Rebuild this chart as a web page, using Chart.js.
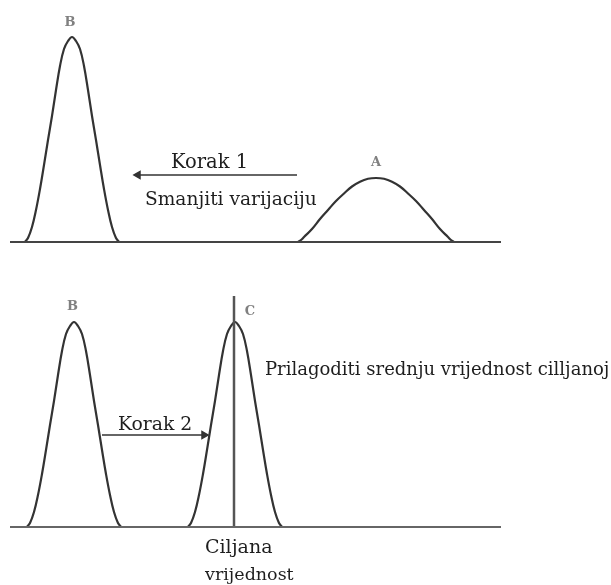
<!DOCTYPE html>
<html>
<head>
<meta charset="utf-8">
<script src="https://cdn.jsdelivr.net/npm/chart.js@4/dist/chart.umd.min.js"></script>
<style>
  html, body { margin: 0; padding: 0; background: #fff; }
  .panel { position: relative; width: 611px; }
  #top { height: 270px; }
  #bottom { height: 315px; }
</style>
</head>
<body>
<div class="panel" id="top"><canvas id="chartTop"></canvas></div>
<div class="panel" id="bottom"><canvas id="chartBottom"></canvas></div>
<script>
// krivulje očitane sa slike (x = položaj, y = visina iznad osnovne linije)
const curveB1X = [25, 28, 32, 36, 40, 44, 48, 52, 56, 60, 64, 68, 72, 76, 80, 84, 88, 92, 96, 100, 104, 108, 112, 116, 119];
const curveB1Y = [0, 4, 15, 32, 53, 77, 102, 126, 152, 176, 193, 201, 205, 201, 193, 176, 152, 126, 102, 77, 53, 32, 15, 4, 0];

const curveAX = [298, 301, 304, 312, 320, 328, 336, 344, 352, 360, 368, 376, 384, 392, 400, 408, 416, 424, 432, 440, 448, 451, 454];
const curveAY = [0, 2, 5, 13, 23, 32, 41, 48.5, 55.5, 60.3, 63.2, 64, 63.2, 60.3, 55.5, 48.5, 41, 32, 23, 13, 5, 2, 0];

const curveB2X = [27, 30, 34, 38, 42, 46, 50, 54, 58, 62, 66, 70, 74, 78, 82, 86, 90, 94, 98, 102, 106, 110, 114, 118, 121];
const curveB2Y = [0, 4, 15, 32, 53, 77, 102, 126, 152, 176, 193, 201, 205, 201, 193, 176, 152, 126, 102, 77, 53, 32, 15, 4, 0];

const curveCX = [188, 191, 195, 199, 203, 207, 211, 215, 219, 223, 227, 231, 235, 239, 243, 247, 251, 255, 259, 263, 267, 271, 275, 279, 282];
const curveCY = [0, 4, 15, 32, 53, 77, 102, 126, 152, 176, 193, 201, 205, 201, 193, 176, 152, 126, 102, 77, 53, 32, 15, 4, 0];

const baseX = [10, 501];
const targetX = 234;
const targetTop = 231;

// tekstovi
const step1Label = 'Korak 1';
const step1Note = 'Smanjiti varijaciju';
const step2Label = 'Korak 2';
const step2Note = 'Prilagoditi srednju vrijednost cilljanoj';
const targetLabel = ['Ciljana', 'vrijednost'];
const topPeakLabels = ['B', 'A'];
const bottomPeakLabels = ['B', 'C'];

const toPoints = (xs, ys) => xs.map((v, i) => ({ x: v, y: ys[i] }));

const curveStyle = {
    borderColor: '#333',
    borderWidth: 2.2,
    pointRadius: 0,
    fill: false,
    tension: 0.4
};

const lineStyle = {
    borderColor: '#555',
    borderWidth: 2,
    pointRadius: 0,
    fill: false,
    tension: 0
};

// strelica: linija + trokut na vrhu
function arrow(x1, x2, y, rotation) {
    return {
        data: [{ x: x1, y: y }, { x: x2, y: y }],
        borderColor: '#333',
        backgroundColor: '#333',
        borderWidth: 1.5,
        pointStyle: 'triangle',
        pointRadius: [0, 4],
        pointRotation: rotation,
        fill: false,
        tension: 0
    };
}

// crtanje teksta u koordinatama grafa
const textPlugin = {
    id: 'notes',
    afterDatasetsDraw(chart, args, opts) {
        const { ctx, scales: { x, y } } = chart;
        ctx.save();
        (opts.items || []).forEach(t => {
            ctx.font = t.font;
            ctx.fillStyle = t.color || '#1e1e1e';
            ctx.textAlign = t.align || 'left';
            ctx.textBaseline = t.baseline || 'alphabetic';
            ctx.fillText(t.text, x.getPixelForValue(t.x), y.getPixelForValue(t.y));
        });
        ctx.restore();
    }
};

const serif = "'DejaVu Serif'";
const peakFont = "bold 13px " + serif;

function baseOptions(yMin, yMax, items) {
    return {
        responsive: true,
        maintainAspectRatio: false,
        animation: false,
        layout: { padding: 0, autoPadding: false },
        scales: {
            x: { type: 'linear', display: false, min: 0, max: 611 },
            y: { type: 'linear', display: false, min: yMin, max: yMax }
        },
        plugins: {
            legend: { display: false },
            tooltip: { enabled: false },
            notes: { items: items }
        }
    };
}

// gornji dio
new Chart(document.getElementById('chartTop'), {
    type: 'line',
    data: {
        datasets: [
            Object.assign({ data: toPoints(baseX, [0, 0]) }, lineStyle, { borderColor: '#444' }),
            Object.assign({ data: toPoints(curveB1X, curveB1Y) }, curveStyle),
            Object.assign({ data: toPoints(curveAX, curveAY) }, curveStyle),
            arrow(297, 138, 67, 270)
        ]
    },
    options: baseOptions(-28, 242, [
        { text: topPeakLabels[0], x: 70, y: 219, font: peakFont, color: '#808080', align: 'center', baseline: 'middle' },
        { text: topPeakLabels[1], x: 376, y: 79, font: peakFont, color: '#808080', align: 'center', baseline: 'middle' },
        { text: step1Label, x: 171, y: 74, font: "19.5px " + serif },
        { text: step1Note, x: 145, y: 37, font: "18.6px " + serif }
    ]),
    plugins: [textPlugin]
});

// donji dio
new Chart(document.getElementById('chartBottom'), {
    type: 'line',
    data: {
        datasets: [
            Object.assign({ data: toPoints(baseX, [0, 0]) }, lineStyle, { borderColor: '#666' }),
            Object.assign({ data: toPoints([targetX, targetX], [0, targetTop]) }, lineStyle, { borderWidth: 2.5 }),
            Object.assign({ data: toPoints(curveB2X, curveB2Y) }, curveStyle),
            Object.assign({ data: toPoints(curveCX, curveCY) }, curveStyle),
            arrow(102, 204, 92, 90)
        ]
    },
    options: baseOptions(-58, 257, [
        { text: bottomPeakLabels[0], x: 72.5, y: 220, font: peakFont, color: '#808080', align: 'center', baseline: 'middle' },
        { text: bottomPeakLabels[1], x: 250, y: 215, font: peakFont, color: '#808080', align: 'center', baseline: 'middle' },
        { text: step2Label, x: 118, y: 97, font: "18.8px " + serif },
        { text: step2Note, x: 265, y: 152, font: "18px " + serif },
        { text: targetLabel[0], x: 205, y: -26, font: "19px " + serif },
        { text: targetLabel[1], x: 205, y: -53, font: "17.5px " + serif }
    ]),
    plugins: [textPlugin]
});
</script>
</body>
</html>
